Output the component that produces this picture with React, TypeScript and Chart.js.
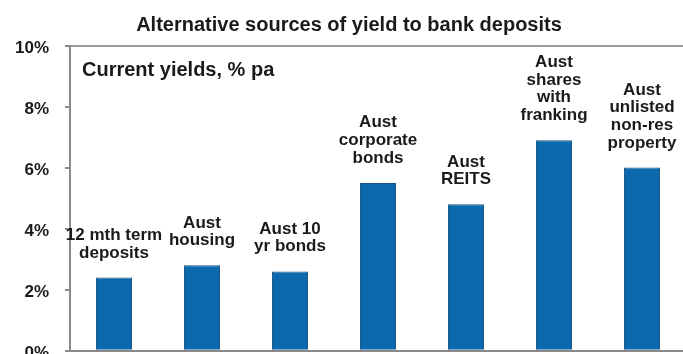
import React, { useEffect, useRef } from 'react';
import { Chart, registerables } from 'chart.js';

Chart.register(...registerables);

const chartTitle = 'Alternative sources of yield to bank deposits';
const subTitle = 'Current yields, % pa';

const categories: string[][] = [
  ['12 mth term', 'deposits'],
  ['Aust', 'housing'],
  ['Aust 10', 'yr bonds'],
  ['Aust', 'corporate', 'bonds'],
  ['Aust', 'REITS'],
  ['Aust', 'shares', 'with', 'franking'],
  ['Aust', 'unlisted', 'non-res', 'property'],
];

const yieldValues: number[] = [2.4, 2.8, 2.6, 5.5, 4.8, 6.9, 6.0];

const yTickValues: number[] = [0, 2, 4, 6, 8, 10];

const FONT = '"Liberation Sans", Arial, Helvetica, sans-serif';
const TEXT = '#1a1a1a';

const barLabelPlugin = {
  id: 'barLabels',
  afterDatasetsDraw(chart: any) {
    const ctx = chart.ctx;
    const meta = chart.getDatasetMeta(0);
    ctx.save();
    ctx.fillStyle = TEXT;
    ctx.font = `bold 17px ${FONT}`;
    ctx.textAlign = 'center';
    ctx.textBaseline = 'alphabetic';
    meta.data.forEach((bar: any, i: number) => {
      const lines = categories[i];
      const n = lines.length;
      lines.forEach((line, j) => {
        ctx.fillText(line, bar.x, bar.y - 20 - (n - 1 - j) * 17.7);
      });
    });
    ctx.textAlign = 'left';
    ctx.font = `bold 20px ${FONT}`;
    ctx.fillText(subTitle, chart.chartArea.left + 12, chart.chartArea.top + 30.5);
    ctx.restore();
  },
};

export default function App() {
  const canvasRef = useRef<HTMLCanvasElement | null>(null);

  useEffect(() => {
    if (!canvasRef.current) return;
    const chart = new Chart(canvasRef.current, {
      type: 'bar',
      data: {
        labels: categories,
        datasets: [
          {
            data: yieldValues,
            backgroundColor: '#0b6aad',
            borderColor: '#1a5283',
            borderWidth: 1,
            barPercentage: 0.41,
            categoryPercentage: 1,
          },
        ],
      },
      options: {
        animation: false,
        responsive: false,
        layout: { padding: { left: 12, right: 4, top: 0, bottom: 0 } },
        plugins: {
          legend: { display: false },
          tooltip: { enabled: false },
          title: {
            display: true,
            text: chartTitle,
            color: TEXT,
            font: { family: FONT, size: 20, weight: 'bold', lineHeight: 1.2 },
            padding: { top: 13, bottom: 8.5 },
          },
        },
        scales: {
          x: {
            ticks: { display: false },
            grid: { display: false, drawTicks: false },
            border: { display: true, color: '#8a8a8a', width: 2 },
            afterFit: (scale: any) => {
              scale.height = 11;
            },
          },
          y: {
            min: 0,
            max: 10,
            afterBuildTicks: (scale: any) => {
              scale.ticks = yTickValues.map((v) => ({ value: v }));
            },
            ticks: {
              color: TEXT,
              font: { family: FONT, size: 17, weight: 'bold' },
              padding: 16,
              labelOffset: 2.5,
              callback: (v: any) => `${v}%`,
            },
            grid: {
              color: (c: any) => (c.tick && c.tick.value === 10 ? '#9a9a9a' : 'rgba(0,0,0,0)'),
              lineWidth: 2,
              tickColor: '#8a8a8a',
              tickLength: 5,
              drawTicks: true,
            },
            border: { display: true, color: '#8a8a8a', width: 2 },
            afterFit: (scale: any) => {
              scale.width = 58;
            },
          },
        },
      },
      plugins: [barLabelPlugin],
    });
    return () => chart.destroy();
  }, []);

  return (
    <div
      style={{
        position: 'absolute',
        left: 0,
        top: 0,
        width: 683,
        height: 354,
        overflow: 'hidden',
        background: '#fff',
      }}
    >
      <canvas ref={canvasRef} width={690} height={377} style={{ display: 'block' }} />
    </div>
  );
}
